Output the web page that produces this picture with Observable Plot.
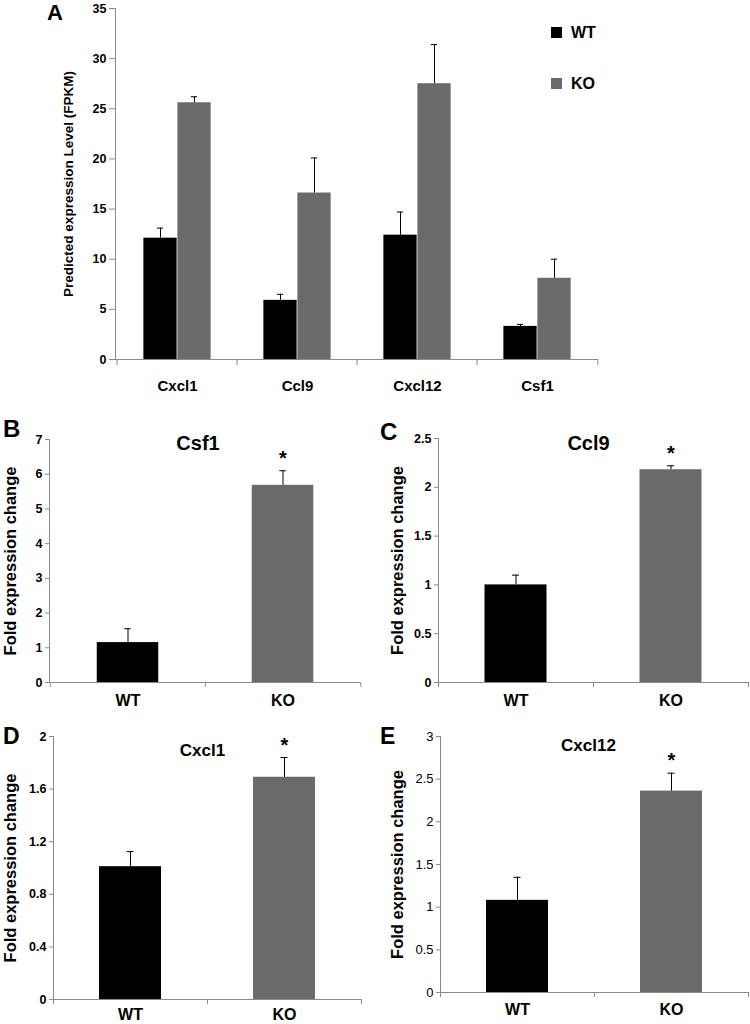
<!DOCTYPE html>
<html>
<head>
<meta charset="utf-8">
<script src="https://cdn.jsdelivr.net/npm/d3@7"></script>
<script src="https://cdn.jsdelivr.net/npm/@observablehq/plot@0.6"></script>
<style>
  html, body { margin: 0; padding: 0; background: #fff; }
  #fig { position: relative; width: 750px; height: 1024px; overflow: hidden; background: #fff;
         font-family: 'Liberation Sans', Arial, sans-serif; color: #000; }
  .panel { position: absolute; }
  .letter { position: absolute; font-weight: bold; line-height: 1; }
  .legend { position: absolute; left: 551px; font-weight: bold; font-size: 16px; line-height: 1; }
  .legend .sw { position: absolute; width: 11px; height: 11px; }
  .legend .lb { position: absolute; left: 20px; white-space: nowrap; }
</style>
</head>
<body>
<div id="fig"></div>
<script>
// ---------- data ----------
const genes = ["Cxcl1", "Ccl9", "Cxcl12", "Csf1"];
const groups = ["WT", "KO"];
const wtFpkm = [12.1, 5.9, 12.4, 3.3];
const wtFpkmErr = [1.0, 0.6, 2.3, 0.2];
const koFpkm = [25.6, 16.6, 27.5, 8.1];
const koFpkmErr = [0.6, 3.5, 3.9, 1.9];
const fpkmTicks = [0, 5, 10, 15, 20, 25, 30, 35];

const csf1Fold = [1.15, 5.68];
const csf1Err = [0.40, 0.42];
const csf1Ticks = [0, 1, 2, 3, 4, 5, 6, 7];

const ccl9Fold = [1.0, 2.18];
const ccl9Err = [0.10, 0.04];
const ccl9Ticks = [0, 0.5, 1, 1.5, 2, 2.5];

const cxcl1Fold = [1.01, 1.69];
const cxcl1Err = [0.115, 0.15];
const cxcl1Ticks = [0, 0.4, 0.8, 1.2, 1.6, 2];

const cxcl12Fold = [1.08, 2.36];
const cxcl12Err = [0.27, 0.21];
const cxcl12Ticks = [0, 0.5, 1, 1.5, 2, 2.5, 3];

// ---------- styles ----------
const BLACK = "#000000";
const GREY_BAR = "#6a6a6a";
const AXIS = "#8a8a8a";
const SANS = "'Liberation Sans', Arial, sans-serif";
const fmt = d => String(d);

const fig = document.getElementById("fig");

function place(node, left, top) {
  const d = document.createElement("div");
  d.className = "panel";
  d.style.left = left + "px";
  d.style.top = top + "px";
  d.appendChild(node);
  fig.appendChild(d);
}
function letter(txt, left, top, size) {
  const d = document.createElement("div");
  d.className = "letter";
  d.style.left = left + "px";
  d.style.top = top + "px";
  d.style.fontSize = size + "px";
  d.textContent = txt;
  fig.appendChild(d);
}

// ---------- Panel A ----------
(function () {
  const W = 750, H = 400, mL = 115, mR = 152, mT = 8, mB = 41;
  const bw = (W - mL - mR) / genes.length;
  const barW = 34, capW = 7;
  const rows = [];
  genes.forEach((g, i) => {
    rows.push({gene: g, group: "WT", value: wtFpkm[i], top: wtFpkm[i] + wtFpkmErr[i]});
    rows.push({gene: g, group: "KO", value: koFpkm[i], top: koFpkm[i] + koFpkmErr[i]});
  });
  const seriesMarks = groups.flatMap((grp, k) => {
    const data = rows.filter(d => d.group === grp);
    const off = k === 0 ? -barW / 2 : barW / 2;
    return [
      Plot.barY(data, {
        x: "gene", y: "value", fill: "group",
        insetLeft: k === 0 ? bw / 2 - barW : bw / 2,
        insetRight: k === 0 ? bw / 2 : bw / 2 - barW
      }),
      Plot.ruleX(data, {x: "gene", y1: "value", y2: "top", dx: off, stroke: BLACK, strokeWidth: 1}),
      Plot.tickY(data, {x: "gene", y: "top", dx: off, insetLeft: (bw - capW) / 2, insetRight: (bw - capW) / 2, stroke: BLACK, strokeWidth: 1})
    ];
  });
  const chart = Plot.plot({
    width: W, height: H, marginLeft: mL, marginRight: mR, marginTop: mT, marginBottom: mB,
    x: {domain: genes, padding: 0},
    y: {domain: [0, 35]},
    color: {domain: groups, range: [BLACK, GREY_BAR]},
    style: {fontFamily: SANS, background: "transparent", color: BLACK, overflow: "visible"},
    marks: [
      ...seriesMarks,
      Plot.ruleY([0], {stroke: AXIS}),
      Plot.frame({anchor: "left", stroke: AXIS}),
      Plot.axisY({ticks: fpkmTicks, tickFormat: fmt, tickSize: 6, tickPadding: 3, stroke: AXIS, fill: BLACK,
        fontSize: 12.5, fontWeight: "bold", label: null}),
      Plot.axisX({fill: "none", stroke: AXIS, tickSize: 6, dx: -bw / 2, label: null}),
      Plot.axisX({ticks: [genes[genes.length - 1]], fill: "none", stroke: AXIS, tickSize: 6, dx: bw / 2, label: null}),
      Plot.axisX({stroke: "none", tickSize: 0, tickPadding: 21, fill: BLACK, fontSize: 15, fontWeight: "bold", label: null}),
      Plot.text(["Predicted expression Level (FPKM)"], {frameAnchor: "left", textAnchor: "middle", rotate: -90, dx: -47,
        text: d => d, fontSize: 13.5, fontWeight: "bold", fill: BLACK})
    ]
  });
  place(chart, 0, 0);
  letter("A", 47, 2, 22);

  // legend
  const leg = document.createElement("div");
  leg.className = "legend";
  leg.style.top = "0px";
  const colors = [BLACK, GREY_BAR];
  const tops = [27, 78];
  groups.forEach((g, i) => {
    const sw = document.createElement("div");
    sw.className = "sw";
    sw.style.top = tops[i] + "px";
    sw.style.background = colors[i];
    leg.appendChild(sw);
    const lb = document.createElement("div");
    lb.className = "lb";
    lb.style.top = (tops[i] - 2) + "px";
    lb.textContent = g;
    leg.appendChild(lb);
  });
  fig.appendChild(leg);
})();

// ---------- Panels B–E ----------
function foldPanel(opt) {
  const {values, errs, ticks, title, W, H, mL, mR, mT, mB, titleSize, titleDx, titleDy,
         labelDx, tickWeight, tickSize, xPad} = opt;
  const bw = (W - mL - mR) / groups.length;
  const barW = 62, capW = 7;
  const rows = groups.map((g, i) => ({group: g, value: values[i], top: values[i] + errs[i]}));
  return Plot.plot({
    width: W, height: H, marginLeft: mL, marginRight: mR, marginTop: mT, marginBottom: mB,
    x: {domain: groups, padding: 0},
    y: {domain: [ticks[0], ticks[ticks.length - 1]]},
    color: {domain: groups, range: [BLACK, GREY_BAR]},
    style: {fontFamily: SANS, background: "transparent", color: BLACK, overflow: "visible"},
    marks: [
      Plot.barY(rows, {x: "group", y: "value", fill: "group", insetLeft: (bw - barW) / 2, insetRight: (bw - barW) / 2}),
      Plot.ruleX(rows, {x: "group", y1: "value", y2: "top", stroke: BLACK, strokeWidth: 1}),
      Plot.tickY(rows, {x: "group", y: "top", insetLeft: (bw - capW) / 2, insetRight: (bw - capW) / 2, stroke: BLACK, strokeWidth: 1}),
      Plot.text(rows.filter(d => d.group === "KO"), {x: "group", y: "top", text: () => "*", dy: -6,
        lineAnchor: "bottom", fontSize: 20, fontWeight: "bold", fill: BLACK}),
      Plot.ruleY([ticks[0]], {stroke: AXIS}),
      Plot.frame({anchor: "left", stroke: AXIS}),
      Plot.axisY({ticks, tickFormat: fmt, tickSize: 4, tickPadding: 3, stroke: AXIS, fill: BLACK,
        fontSize: tickSize, fontWeight: tickWeight, label: null}),
      Plot.axisX({fill: "none", stroke: AXIS, tickSize: 5, dx: -bw / 2, label: null}),
      Plot.axisX({ticks: [groups[groups.length - 1]], fill: "none", stroke: AXIS, tickSize: 5, dx: bw / 2, label: null}),
      Plot.axisX({stroke: "none", tickSize: 0, tickPadding: xPad, fill: BLACK, fontSize: 16, fontWeight: "bold", label: null}),
      Plot.text([title], {frameAnchor: "top", dx: titleDx, dy: titleDy, text: d => d, lineAnchor: "middle",
        fontSize: titleSize, fontWeight: "bold", fill: BLACK}),
      Plot.text(["Fold expression change"], {frameAnchor: "left", textAnchor: "middle", rotate: -90, dx: labelDx,
        text: d => d, fontSize: 16.5, fontWeight: "bold", fill: BLACK})
    ]
  });
}

place(foldPanel({values: csf1Fold, errs: csf1Err, ticks: csf1Ticks, title: "Csf1",
  W: 372, H: 310, mL: 49, mR: 12, mT: 39, mB: 28, titleSize: 20, titleDx: -7, titleDy: 4,
  labelDx: -39, tickWeight: "bold", tickSize: 12.5, xPad: 12}), 0, 400);
letter("B", 3, 417, 24);

place(foldPanel({values: ccl9Fold, errs: ccl9Err, ticks: ccl9Ticks, title: "Ccl9",
  W: 378, H: 310, mL: 66, mR: 2, mT: 38, mB: 28, titleSize: 20, titleDx: -5, titleDy: 5,
  labelDx: -41, tickWeight: "bold", tickSize: 12.5, xPad: 12}), 372, 400);
letter("C", 380, 420, 24);

place(foldPanel({values: cxcl1Fold, errs: cxcl1Err, ticks: cxcl1Ticks, title: "Cxcl1",
  W: 372, H: 314, mL: 53, mR: 11, mT: 26, mB: 25, titleSize: 17, titleDx: -5, titleDy: 14,
  labelDx: -43, tickWeight: "bold", tickSize: 12.5, xPad: 9}), 0, 710);
letter("D", 3, 725, 23);

place(foldPanel({values: cxcl12Fold, errs: cxcl12Err, ticks: cxcl12Ticks, title: "Cxcl12",
  W: 378, H: 314, mL: 68, mR: 2, mT: 26, mB: 32, titleSize: 17, titleDx: -6, titleDy: 9,
  labelDx: -43, tickWeight: "normal", tickSize: 13, xPad: 11}), 372, 710);
letter("E", 380, 725, 23);
</script>
</body>
</html>
